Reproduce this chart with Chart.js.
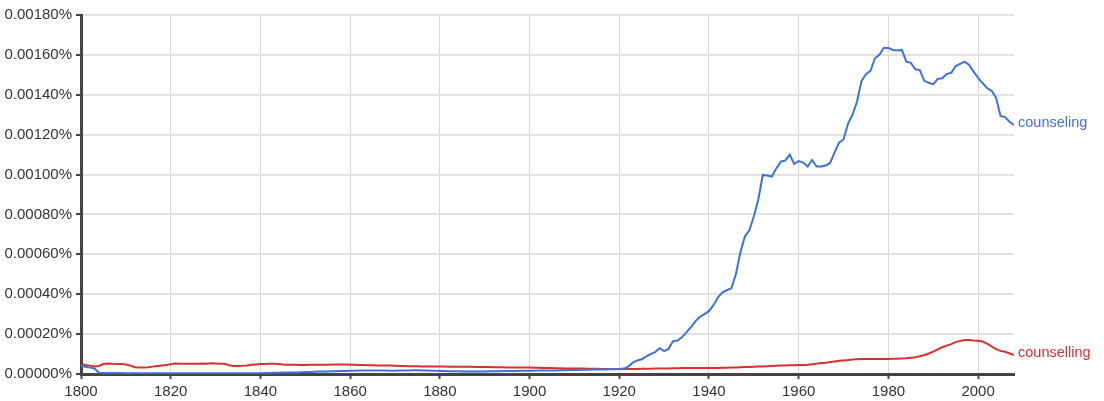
<!DOCTYPE html>
<html>
<head>
<meta charset="utf-8">
<script src="https://cdn.jsdelivr.net/npm/chart.js@4.4.1/dist/chart.umd.min.js"></script>
<style>
  html, body { margin: 0; padding: 0; background: #fff; }
  #wrap { width: 1104px; height: 401px; position: relative; }
</style>
</head>
<body>
<div id="wrap"><canvas id="ngramChart" width="1104" height="401"></canvas></div>
<script>
// values in units of 0.00001 %
var firstYear = 1800;
var lastYear = 2008;
var seriesNames = ['counseling', 'counselling'];
var seriesColors = ['#3f71d9', '#d8302f'];
var yTicks = [0, 20, 40, 60, 80, 100, 120, 140, 160, 180];
var xTicks = [1800, 1820, 1840, 1860, 1880, 1900, 1920, 1940, 1960, 1980, 2000];

var counseling = [
  4.2, 3.6, 3.2, 2.8, 0.6, 0.5, 0.5, 0.5, 0.5, 0.5,
  0.4, 0.4, 0.4, 0.4, 0.4, 0.4, 0.4, 0.4, 0.4, 0.4,
  0.4, 0.4, 0.4, 0.4, 0.4, 0.4, 0.4, 0.4, 0.4, 0.4,
  0.4, 0.4, 0.4, 0.4, 0.4, 0.4, 0.4, 0.4, 0.4, 0.4,
  0.4, 0.5, 0.5, 0.6, 0.6, 0.7, 0.7, 0.8, 0.8, 0.9,
  1.0, 1.0, 1.1, 1.2, 1.2, 1.3, 1.4, 1.4, 1.5, 1.5,
  1.6, 1.6, 1.7, 1.7, 1.8, 1.8, 1.7, 1.7, 1.7, 1.6,
  1.6, 1.7, 1.8, 1.8, 1.9, 1.9, 1.8, 1.7, 1.6, 1.6,
  1.5, 1.5, 1.4, 1.4, 1.4, 1.3, 1.3, 1.3, 1.3, 1.3,
  1.3, 1.4, 1.4, 1.4, 1.5, 1.5, 1.5, 1.5, 1.6, 1.6,
  1.6, 1.6, 1.7, 1.7, 1.8, 1.8, 1.8, 1.9, 1.9, 2.0,
  2.0, 2.0, 2.1, 2.1, 2.2, 2.2, 2.3, 2.3, 2.4, 2.4,
  2.5, 2.7, 3.7, 5.7, 6.8, 7.4, 8.8, 10.0, 11.0, 12.9,
  11.5, 12.6, 16.5, 16.8, 18.5, 21.0, 23.5, 26.5, 28.7, 30.0,
  31.5, 34.5, 38.5, 41.0, 42.0, 43.0, 50.0, 61.0, 69.0, 72.0,
  79.0, 87.5, 99.8, 99.5, 99.0, 103.0, 106.5, 107.0, 110.0, 105.3,
  106.8, 106.0, 104.0, 107.3, 104.0, 104.0, 104.5, 105.8, 111.0, 116.0,
  117.6, 125.5, 130.0, 136.5, 147.0, 150.3, 152.0, 158.3, 160.0, 163.6,
  163.4, 162.5, 162.2, 162.5, 156.6, 156.0, 152.8, 152.4, 147.0, 146.0,
  145.2, 148.0, 148.3, 150.4, 151.0, 154.4, 155.5, 156.6, 155.0, 151.6,
  148.5, 145.8, 143.4, 142.0, 138.5, 129.4, 128.8, 126.5, 124.9
];

var counselling = [
  4.9, 4.5, 4.2, 3.8, 4.0, 5.0, 5.3, 5.1, 5.0, 5.0,
  4.8, 4.2, 3.4, 3.2, 3.2, 3.4, 3.7, 4.0, 4.3, 4.5,
  4.9, 5.3, 5.2, 5.1, 5.2, 5.2, 5.1, 5.3, 5.1, 5.4,
  5.3, 5.2, 5.1, 4.4, 4.0, 4.0, 4.1, 4.3, 4.6, 4.8,
  5.0, 5.0, 5.1, 5.1, 5.0, 4.8, 4.7, 4.7, 4.6, 4.5,
  4.5, 4.6, 4.6, 4.7, 4.7, 4.7, 4.8, 4.8, 4.8, 4.8,
  4.7, 4.6, 4.5, 4.5, 4.4, 4.4, 4.3, 4.3, 4.2, 4.2,
  4.1, 4.0, 4.0, 3.9, 3.9, 3.9, 3.8, 3.8, 3.8, 3.7,
  3.7, 3.7, 3.6, 3.6, 3.6, 3.6, 3.6, 3.6, 3.5, 3.5,
  3.5, 3.5, 3.4, 3.4, 3.4, 3.3, 3.3, 3.3, 3.2, 3.2,
  3.2, 3.1, 3.1, 3.0, 3.0, 3.0, 2.9, 2.9, 2.8, 2.8,
  2.8, 2.7, 2.7, 2.6, 2.6, 2.6, 2.5, 2.5, 2.5, 2.5,
  2.5, 2.5, 2.5, 2.5, 2.5, 2.6, 2.6, 2.6, 2.7, 2.7,
  2.8, 2.8, 2.9, 2.9, 3.0, 3.0, 3.0, 3.0, 3.0, 3.0,
  3.0, 3.0, 3.0, 3.1, 3.1, 3.2, 3.3, 3.4, 3.5, 3.5,
  3.6, 3.7, 3.8, 3.9, 4.0, 4.1, 4.2, 4.3, 4.4, 4.4,
  4.5, 4.5, 4.6, 4.9, 5.2, 5.5, 5.7, 6.0, 6.3, 6.6,
  6.8, 7.0, 7.3, 7.4, 7.5, 7.5, 7.5, 7.5, 7.5, 7.5,
  7.5, 7.6, 7.7, 7.8, 7.9, 8.1, 8.4, 8.9, 9.5, 10.3,
  11.2, 12.3, 13.4, 14.2, 15.0, 16.0, 16.6, 17.0, 17.0, 16.8,
  16.7, 16.3, 15.2, 13.9, 12.5, 11.6, 11.2, 10.3, 9.5
];

function toPoints(values) {
  return values.map(function (v, i) { return { x: firstYear + i, y: v }; });
}

// name written after the last point of each line
var endLabels = {
  id: 'endLabels',
  afterDatasetsDraw: function (chart) {
    var ctx = chart.ctx;
    ctx.save();
    ctx.font = '14.5px "Liberation Sans", Arial, sans-serif';
    ctx.textAlign = 'left';
    ctx.textBaseline = 'middle';
    chart.data.datasets.forEach(function (ds, i) {
      var meta = chart.getDatasetMeta(i);
      var last = meta.data[meta.data.length - 1];
      ctx.fillStyle = ds.borderColor;
      ctx.fillText(ds.label, last.x + 4, last.y - 2);
    });
    ctx.restore();
  }
};

var ctx = document.getElementById('ngramChart').getContext('2d');
new Chart(ctx, {
  type: 'line',
  data: {
    datasets: [
      {
        label: seriesNames[0],
        data: toPoints(counseling),
        borderColor: seriesColors[0],
        borderWidth: 2,
        pointRadius: 0,
        tension: 0,
        fill: false
      },
      {
        label: seriesNames[1],
        data: toPoints(counselling),
        borderColor: seriesColors[1],
        borderWidth: 2,
        pointRadius: 0,
        tension: 0,
        fill: false
      }
    ]
  },
  options: {
    responsive: false,
    animation: false,
    layout: { padding: { top: 15, right: 90, bottom: 0, left: 0 } },
    plugins: {
      legend: { display: false },
      tooltip: { enabled: false }
    },
    scales: {
      x: {
        type: 'linear',
        min: firstYear,
        max: lastYear,
        afterBuildTicks: function (axis) {
          axis.ticks = xTicks.map(function (v) { return { value: v }; });
        },
        afterFit: function (axis) { axis.height = 27; },
        ticks: {
          color: '#333',
          font: { family: '"Liberation Sans", Arial, sans-serif', size: 15 },
          padding: 4,
          maxRotation: 0,
          callback: function (v) { return String(v); }
        },
        grid: {
          color: '#d6d6d6',
          lineWidth: 1,
          tickColor: '#444',
          tickLength: 5,
          tickWidth: 2
        },
        border: { color: '#444', width: 3 }
      },
      y: {
        min: 0,
        max: 180,
        afterBuildTicks: function (axis) {
          axis.ticks = yTicks.map(function (v) { return { value: v }; });
        },
        afterFit: function (axis) { axis.width = 81; },
        ticks: {
          color: '#333',
          font: { family: '"Liberation Sans", Arial, sans-serif', size: 15 },
          padding: 4,
          callback: function (v) { return (v / 100000).toFixed(5) + '%'; }
        },
        grid: {
          color: '#e2e2e2',
          lineWidth: 2,
          tickColor: '#444',
          tickLength: 5,
          tickWidth: 2
        },
        border: { color: '#444', width: 3 }
      }
    }
  },
  plugins: [endLabels]
});
</script>
</body>
</html>
